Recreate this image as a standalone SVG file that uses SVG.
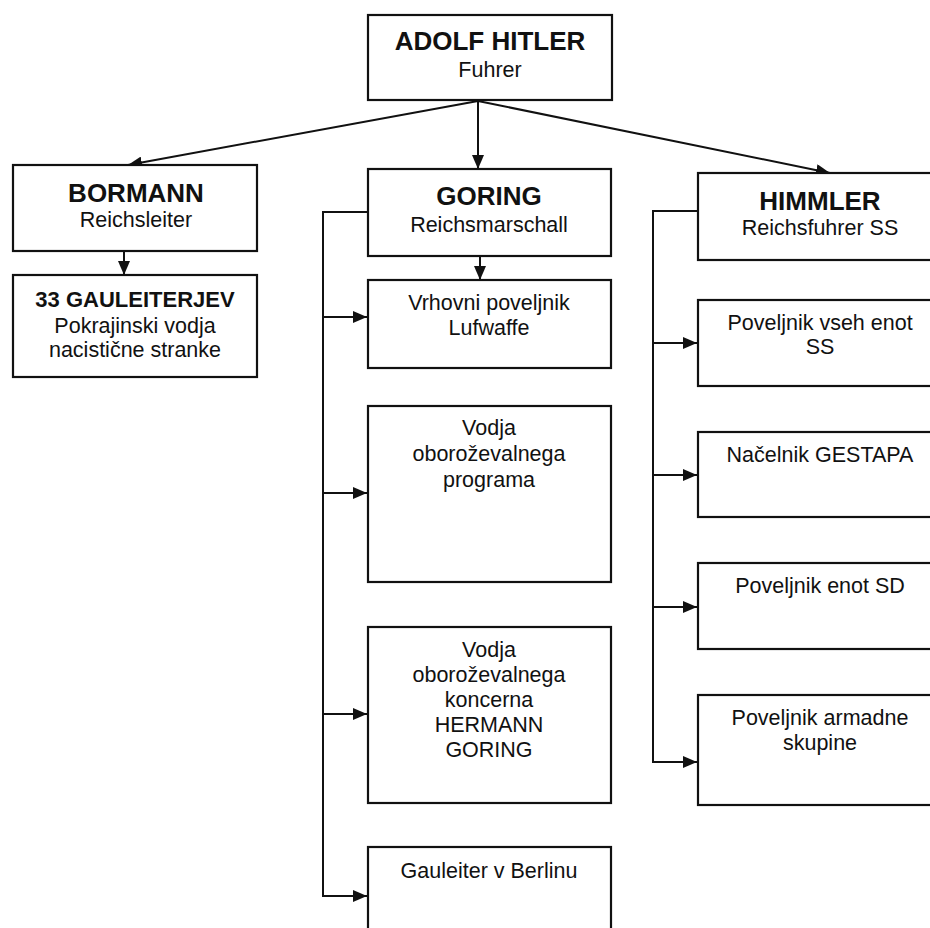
<svg xmlns="http://www.w3.org/2000/svg" width="930" height="928" viewBox="0 0 930 928">
<defs>
<marker id="ah" viewBox="0 0 14 12" refX="14" refY="6" markerWidth="14" markerHeight="12" markerUnits="userSpaceOnUse" orient="auto">
<path d="M0,0 L14,6 L0,12 z" fill="#111"/>
</marker>
<style>
.box{fill:#fff;stroke:#111;stroke-width:2.2}
.t{font-family:"Liberation Sans",Arial,sans-serif;font-size:21.5px;fill:#111;text-anchor:middle}
.b{font-family:"Liberation Sans",Arial,sans-serif;font-size:26px;font-weight:bold;fill:#111;text-anchor:middle}
.c{fill:none;stroke:#111;stroke-width:2}
</style>
</defs>
<rect width="930" height="928" fill="#fff"/>
<g id="connectors">
<path class="c" d="M478,101 L128,165" marker-end="url(#ah)"/>
<path class="c" d="M478,101 L478,169" marker-end="url(#ah)"/>
<path class="c" d="M478,101 L830,173" marker-end="url(#ah)"/>
<path class="c" d="M124,251 L124,275" marker-end="url(#ah)"/>
<path class="c" d="M480,256 L480,280" marker-end="url(#ah)"/>
<path class="c" d="M368,212 H323 V896 H367" marker-end="url(#ah)"/>
<path class="c" d="M323,317 H367" marker-end="url(#ah)"/>
<path class="c" d="M323,493 H367" marker-end="url(#ah)"/>
<path class="c" d="M323,714 H367" marker-end="url(#ah)"/>
<path class="c" d="M698,211 H653 V762 H697" marker-end="url(#ah)"/>
<path class="c" d="M653,343 H697" marker-end="url(#ah)"/>
<path class="c" d="M653,475 H697" marker-end="url(#ah)"/>
<path class="c" d="M653,607 H697" marker-end="url(#ah)"/>
</g>
<g id="hitler"><rect class="box" x="368" y="15" width="244" height="85"/><text class="b" x="490" y="50">ADOLF HITLER</text><text class="t" x="490" y="77">Fuhrer</text></g>
<g id="bormann"><rect class="box" x="13" y="165" width="244" height="86"/><text class="b" x="136" y="202">BORMANN</text><text class="t" x="136" y="227">Reichsleiter</text></g>
<g id="gauleiterjev"><rect class="box" x="13" y="275" width="244" height="102"/><text class="b" x="135" y="307" style="font-size:22px">33 GAULEITERJEV</text><text class="t" x="135" y="333">Pokrajinski vodja</text><text class="t" x="135" y="357">nacistične stranke</text></g>
<g id="goring"><rect class="box" x="368" y="169" width="243" height="87"/><text class="b" x="489" y="205">GORING</text><text class="t" x="489" y="232">Reichsmarschall</text></g>
<g id="vrhovni"><rect class="box" x="368" y="280" width="243" height="88"/><text class="t" x="489" y="310">Vrhovni poveljnik</text><text class="t" x="489" y="335">Lufwaffe</text></g>
<g id="program"><rect class="box" x="368" y="406" width="243" height="176"/><text class="t" x="489" y="435">Vodja</text><text class="t" x="489" y="461">oboroževalnega</text><text class="t" x="489" y="487">programa</text></g>
<g id="koncern"><rect class="box" x="368" y="627" width="243" height="176"/><text class="t" x="489" y="657">Vodja</text><text class="t" x="489" y="682">oboroževalnega</text><text class="t" x="489" y="707">koncerna</text><text class="t" x="489" y="732">HERMANN</text><text class="t" x="489" y="757">GORING</text></g>
<g id="berlin"><rect class="box" x="368" y="847" width="243" height="110"/><text class="t" x="489" y="878">Gauleiter v Berlinu</text></g>
<g id="himmler"><rect class="box" x="698" y="173" width="250" height="87"/><text class="b" x="820" y="210">HIMMLER</text><text class="t" x="820" y="235">Reichsfuhrer SS</text></g>
<g id="vseh"><rect class="box" x="698" y="300" width="250" height="86"/><text class="t" x="820" y="330">Poveljnik vseh enot</text><text class="t" x="820" y="354">SS</text></g>
<g id="gestapa"><rect class="box" x="698" y="432" width="250" height="85"/><text class="t" x="820" y="462">Načelnik GESTAPA</text></g>
<g id="sd"><rect class="box" x="698" y="563" width="250" height="86"/><text class="t" x="820" y="593">Poveljnik enot SD</text></g>
<g id="armadne"><rect class="box" x="698" y="695" width="250" height="110"/><text class="t" x="820" y="725">Poveljnik armadne</text><text class="t" x="820" y="750">skupine</text></g>
</svg>
